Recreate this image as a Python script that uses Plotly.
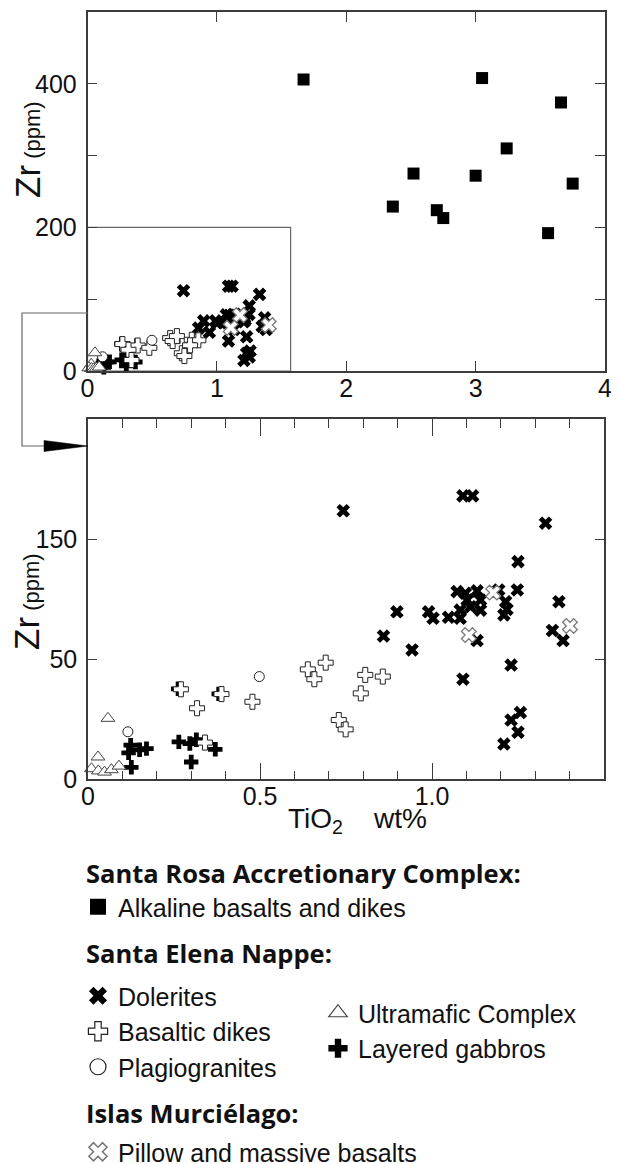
import plotly.graph_objects as go

# The page body keeps an 8 px margin, so the figure is drawn 8 px in from
# the top-left corner; all layout positions below are given in page pixels.
OFF = 8
W, H = 619 - OFF, 1164 - OFF


def px(x):
    return (x - OFF) / W


def py(y):
    return 1 - (y - OFF) / H


# ---------------- data (TiO2 wt%, Zr ppm) ----------------
alk_x = [1.67, 3.05, 3.66, 3.24, 2.52, 3.00, 3.75, 2.36, 2.70, 2.75, 3.56]
alk_y = [406, 408, 374, 310, 275, 272, 261, 229, 224, 213, 192]

dol_x = [0.742, 1.090, 1.118, 1.330, 1.250, 1.073, 1.097, 1.131, 1.194, 1.248,
         1.369, 0.898, 0.990, 1.003, 1.048, 1.082, 1.102, 1.112, 1.141, 1.141,
         1.214, 1.218, 1.209, 0.859, 0.942, 1.131, 1.350, 1.381, 1.230, 1.090,
         1.257, 1.230, 1.250, 1.209, 1.082]
dol_y = [111.9, 118.1, 118.1, 106.7, 90.7, 78.2, 77.5, 78.5, 78.9, 78.9,
         74.0, 69.8, 69.8, 67.1, 67.5, 67.1, 74.7, 71.9, 74.7, 70.5,
         74.0, 70.8, 68.5, 59.7, 53.9, 57.8, 62.0, 57.8, 47.6, 41.7,
         27.8, 24.7, 19.6, 14.7, 70.5]

dike_x = [0.270, 0.388, 0.317, 0.478, 0.639, 0.658, 0.691, 0.729, 0.749, 0.340,
          0.806, 0.857, 0.793]
dike_y = [37.5, 35.5, 29.6, 32.3, 45.8, 41.7, 48.6, 24.7, 20.8, 15.3,
          43.5, 42.8, 35.8]

plag_x = [0.498, 0.116]
plag_y = [42.8, 19.8]

ultra_x = [0.058, 0.029, 0.010, 0.030, 0.048, 0.068, 0.090]
ultra_y = [25.4, 9.3, 4.4, 3.5, 3.0, 4.0, 5.5]

gab_x = [0.262, 0.380, 0.124, 0.118, 0.150, 0.170, 0.126, 0.264, 0.296, 0.315,
         0.300, 0.370]
gab_y = [37.7, 35.6, 14.2, 11.0, 12.3, 12.8, 5.0, 15.6, 14.9, 16.5,
         7.2, 12.5]

pil_x = [1.178, 1.107, 1.401]
pil_y = [77.8, 60.1, 63.9]

# zoom window shown in the lower panel (outlined in the upper panel)
ZOOM_X_MAX = 1.57
ZOOM_Y_MAX = 200

group_titles = ["Santa Rosa Accretionary Complex:", "Santa Elena Nappe:", "Islas Murciélago:"]

FONT = "Liberation Sans, Arial, sans-serif"
HEAD = "Open Sans, sans-serif"
AX = "#3c3c3c"

fig = go.Figure()

# name, x, y, symbol, size, fill, line color, line width, legend, rank
series = [
    ("Alkaline basalts and dikes", alk_x, alk_y, "square", 12, "black", "black", 0, "legend", 1),
    ("Layered gabbros", gab_x, gab_y, "cross", 12, "black", "black", 0, "legend3", 2),
    ("Dolerites", dol_x, dol_y, "x", 12, "black", "black", 0, "legend2", 1),
    ("Basaltic dikes", dike_x, dike_y, "cross", 12.5, "white", "#222", 1, "legend2", 2),
    ("Plagiogranites", plag_x, plag_y, "circle", 10, "white", "#222", 1, "legend2", 3),
    ("Ultramafic Complex", ultra_x, ultra_y, "triangle-up", 12, "white", "#444", 1, "legend3", 1),
    ("Pillow and massive basalts", pil_x, pil_y, "x", 13, "white", "#777", 1.3, "legend4", 1),
]

for name, xs, ys, sym, size, fill, lc, lw, leg, rank in series:
    mk = dict(symbol=sym, size=size, color=fill, line=dict(color=lc, width=lw))
    # upper panel (all data)
    fig.add_trace(go.Scatter(x=xs, y=ys, mode="markers", name=name, showlegend=False,
                             marker=mk, xaxis="x", yaxis="y", cliponaxis=False))
    # lower panel (zoomed window; alkaline basalts fall outside it)
    if leg != "legend":
        fig.add_trace(go.Scatter(x=xs, y=ys, mode="markers", name=name, showlegend=False,
                                 marker=mk, xaxis="x2", yaxis="y2", cliponaxis=False))
    # legend key (no data points, larger symbol as in the printed key)
    key = dict(mk, size=16, line=dict(color=lc, width=lw * 1.2))
    fig.add_trace(go.Scatter(x=[None], y=[None], mode="markers", name=name, legend=leg,
                             legendrank=rank, marker=key, xaxis="x2", yaxis="y2",
                             hoverinfo="skip"))

axis_common = dict(showline=True, linecolor=AX, linewidth=1.5, mirror="ticks",
                   ticks="inside", tickcolor=AX, tickwidth=1.2, showgrid=False,
                   zeroline=False, tickfont=dict(family=FONT, size=25, color="#111"))

fig.update_layout(
    width=W, height=H,
    margin=dict(l=0, r=0, t=0, b=0, autoexpand=False),
    paper_bgcolor="white", plot_bgcolor="white",
    xaxis=dict(domain=[px(87.5), px(605)], range=[0, 4], anchor="y",
               tickvals=[0, 1, 2, 3, 4], ticklen=10, ticklabelstandoff=-6, **axis_common),
    yaxis=dict(domain=[py(371), py(12)], range=[0, 500], anchor="x",
               tickvals=[0, 100, 200, 300, 400], ticktext=["0", "", "200", "", "400"],
               ticklen=10, ticklabelstandoff=4, **axis_common),
    xaxis2=dict(domain=[px(88), px(604)], range=[0, 1.5], anchor="y2",
                tickvals=[0, 0.5, 1.0, 1.5], ticktext=["0", "0.5", "1.0", "1.5"],
                ticklen=17, ticklabelstandoff=-6,
                minor=dict(dtick=0.1, ticklen=9, ticks="inside", tickcolor=AX),
                **axis_common),
    yaxis2=dict(domain=[py(779.3), py(419.3)], range=[0, 150], anchor="x2",
                tickvals=[0, 50, 100], ticktext=["0", "50", "150"], ticklen=9,
                ticklabelstandoff=4, **axis_common),
    showlegend=True,
)

leg_common = dict(xanchor="left", yanchor="top", bgcolor="rgba(0,0,0,0)",
                  font=dict(family=FONT, size=25, color="#111"),
                  itemsizing="trace", tracegroupgap=0)

fig.update_layout(
    legend=dict(x=px(78), y=py(884), **leg_common),
    legend2=dict(x=px(78), y=py(973), **leg_common),
    legend3=dict(x=px(318), y=py(990), **leg_common),
    legend4=dict(x=px(78), y=py(1129), **leg_common),
)

head_font = dict(family=HEAD, size=25.5, color="#111", weight="bold")
for title, yc in zip(group_titles, [873, 953, 1113]):
    fig.add_annotation(text=title, xref="paper", yref="paper", x=px(84), y=py(yc),
                       xanchor="left", yanchor="middle", showarrow=False, font=head_font)

# zoom box in upper panel
fig.add_shape(type="rect", xref="x", yref="y", x0=0, x1=ZOOM_X_MAX, y0=0, y1=ZOOM_Y_MAX,
              line=dict(color="#666", width=1.2), layer="below")

# connector from the zoom box to the lower panel
fig.add_shape(type="path", xref="paper", yref="paper",
              path=f"M {px(88)} {py(313)} L {px(22)} {py(313)} L {px(22)} {py(446)} L {px(60)} {py(446)}",
              line=dict(color="#666", width=1.2))
fig.add_shape(type="path", xref="paper", yref="paper",
              path=f"M {px(44)} {py(440.5)} L {px(88)} {py(446)} L {px(44)} {py(451.5)} Z",
              fillcolor="black", line=dict(color="black", width=0.5))

# axis titles
ytitle = "Zr<span style='font-size:22px'> (ppm)</span>"
fig.add_annotation(text=ytitle, xref="paper", yref="paper", x=px(27), y=py(150),
                   xanchor="center", yanchor="middle",
                   textangle=-90, showarrow=False, font=dict(family=FONT, size=35, color="#111"))
fig.add_annotation(text=ytitle, xref="paper", yref="paper", x=px(26), y=py(602),
                   xanchor="center", yanchor="middle",
                   textangle=-90, showarrow=False, font=dict(family=FONT, size=35, color="#111"))
fig.add_annotation(text="TiO<sub>2</sub>    wt%", xref="paper", yref="paper", x=px(357), y=py(820),
                   xanchor="center", yanchor="middle",
                   showarrow=False, font=dict(family=FONT, size=28, color="#111"))

fig.write_html("out.html")
